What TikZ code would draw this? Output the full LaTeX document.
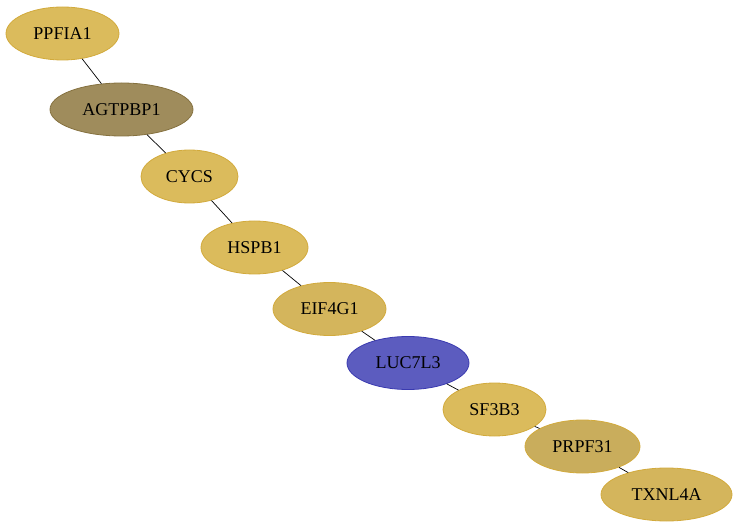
\documentclass[tikz,border=0pt]{standalone}
\usepackage{fontspec}
\setmainfont{Liberation Serif}
\usetikzlibrary{shapes.geometric}
\definecolor{goldA}{HTML}{DBBB5C}
\definecolor{goldB}{HTML}{D4B55C}
\definecolor{goldC}{HTML}{C9AD5C}
\definecolor{olive}{HTML}{9F8C5C}
\definecolor{blueN}{HTML}{5C5CBF}
\definecolor{goldLine}{HTML}{D2AA3C}
\definecolor{oliveLine}{HTML}{85713F}
\definecolor{blueLine}{HTML}{3A3AB0}
\tikzset{
  gene/.style={ellipse, draw=goldLine, fill=goldA, line width=0.8pt, inner sep=0pt,
    font=\fontsize{18}{21}\selectfont, text=black},
  link/.style={draw=black, line width=0.7pt}
}
\begin{document}
\begin{tikzpicture}[x=1pt,y=1pt]
\useasboundingbox (0,0) rectangle (739,528);
\node[gene, minimum width=113pt, minimum height=53pt] (PPFIA1) at (62.5,494.5) {PPFIA1};
\node[gene, minimum width=143pt, minimum height=53pt, fill=olive, draw=oliveLine] (AGTPBP1) at (121.5,418.5) {AGTPBP1};
\node[gene, minimum width=97pt, minimum height=53pt] (CYCS) at (189.5,351.5) {CYCS};
\node[gene, minimum width=107pt, minimum height=53pt] (HSPB1) at (254.5,280.5) {HSPB1};
\node[gene, minimum width=113pt, minimum height=53pt, fill=goldB] (EIF4G1) at (329.5,219) {EIF4G1};
\node[gene, minimum width=122pt, minimum height=53pt, fill=blueN, draw=blueLine] (LUC7L3) at (408,165) {LUC7L3};
\node[gene, minimum width=103pt, minimum height=53pt] (SF3B3) at (494.5,118.5) {SF3B3};
\node[gene, minimum width=115pt, minimum height=53pt, fill=goldC] (PRPF31) at (582.5,81.5) {PRPF31};
\node[gene, minimum width=131pt, minimum height=53pt, fill=goldB] (TXNL4A) at (666.5,33.5) {TXNL4A};
\draw[link] (PPFIA1) -- (AGTPBP1);
\draw[link] (AGTPBP1) -- (CYCS);
\draw[link] (CYCS) -- (HSPB1);
\draw[link] (HSPB1) -- (EIF4G1);
\draw[link] (EIF4G1) -- (LUC7L3);
\draw[link] (LUC7L3) -- (SF3B3);
\draw[link] (SF3B3) -- (PRPF31);
\draw[link] (PRPF31) -- (TXNL4A);
\end{tikzpicture}
\end{document}
